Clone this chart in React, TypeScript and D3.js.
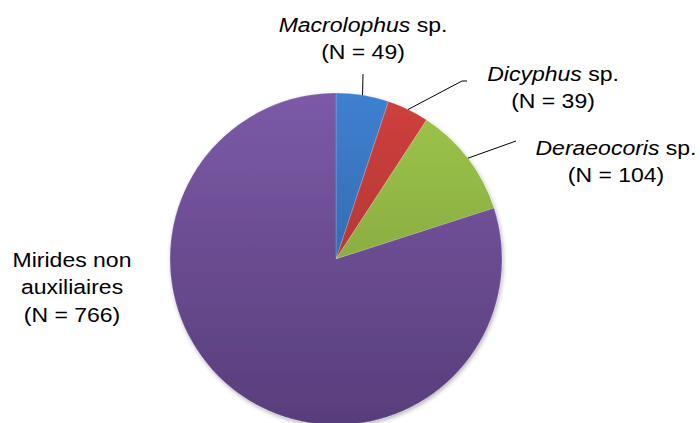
import * as d3 from 'd3';
import { useEffect, useRef } from 'react';

// data
const categories = ['Macrolophus', 'Dicyphus', 'Deraeocoris', 'Mirides non auxiliaires'];
const counts = [49, 39, 104, 766];
const italicNames = ['Macrolophus', 'Dicyphus', 'Deraeocoris', ''];
const suffixes = [' sp.', ' sp.', ' sp.', ''];
const colorsTop = ['#3f80d1', '#cf403d', '#9dc64c', '#7c5aa7'];
const colorsBottom = ['#2a5993', '#9c302e', '#789636', '#583d7b'];

// label layout: centre x, first baseline, and leader line end points
const labelPos = [
  { x: 363, y: 32, leader: [[363, 74]] },
  { x: 553, y: 81, leader: [[462, 81], [467, 81]] },
  { x: 616, y: 155, leader: [[516, 141]] },
  { x: 72, y: 267, leader: [] },
];

const App = () => {
  const width = 700;
  const height = 423;
  const cx = 336;
  const cy = 259;
  const radius = 166;
  const fontSize = 19.5;
  const stretch = 1.18;
  const lineH = 27.5;

  const svgRef = useRef<SVGSVGElement>(null);

  useEffect(() => {
    const svg = d3.select(svgRef.current);
    svg.selectAll('*').remove();

    const defs = svg.append('defs');
    counts.forEach((_, i) => {
      const g = defs.append('linearGradient')
        .attr('id', 'grad' + i)
        .attr('gradientUnits', 'userSpaceOnUse')
        .attr('x1', 0).attr('y1', -radius)
        .attr('x2', 0).attr('y2', radius);
      g.append('stop').attr('offset', '0%').attr('stop-color', colorsTop[i]);
      g.append('stop').attr('offset', '100%').attr('stop-color', colorsBottom[i]);
    });
    const f = defs.append('filter').attr('id', 'shadow')
      .attr('x', '-10%').attr('y', '-10%').attr('width', '120%').attr('height', '120%');
    f.append('feDropShadow')
      .attr('dx', 1).attr('dy', 2).attr('stdDeviation', 2)
      .attr('flood-color', '#000').attr('flood-opacity', 0.3);

    const pie = d3.pie<number>().sort(null).value(d => d);
    const arcs = pie(counts);
    const arc = d3.arc<d3.PieArcDatum<number>>().innerRadius(0).outerRadius(radius);

    const g = svg.append('g').attr('transform', `translate(${cx},${cy})`);
    g.append('g').attr('filter', 'url(#shadow)')
      .selectAll('path')
      .data(arcs)
      .join('path')
      .attr('d', arc)
      .attr('fill', (_, i) => `url(#grad${i})`)
      .attr('stroke', 'rgba(255,255,255,0.35)')
      .attr('stroke-width', 0.5);

    // leader lines
    arcs.forEach((a, i) => {
      const pts = labelPos[i].leader;
      if (!pts.length) return;
      const mid = (a.startAngle + a.endAngle) / 2;
      const start: [number, number] = [cx + radius * Math.sin(mid), cy - radius * Math.cos(mid)];
      const line = d3.line();
      svg.append('path')
        .attr('d', line([start, ...(pts as [number, number][])]))
        .attr('fill', 'none')
        .attr('stroke', '#000')
        .attr('stroke-width', 1);
    });

    // labels
    categories.forEach((c, i) => {
      const p = labelPos[i];
      const t = svg.append('g')
        .attr('transform', `translate(${p.x},${p.y}) scale(${stretch},1)`)
        .attr('font-family', '"Liberation Sans", Arial, sans-serif')
        .attr('font-size', fontSize)
        .attr('fill', '#000')
        .attr('text-anchor', 'middle');
      let lines: string[][];
      if (italicNames[i]) {
        lines = [[italicNames[i], suffixes[i]], ['', `(N = ${counts[i]})`]];
      } else {
        lines = [['', 'Mirides non'], ['', 'auxiliaires'], ['', `(N = ${counts[i]})`]];
      }
      lines.forEach((ln, j) => {
        const txt = t.append('text').attr('x', 0).attr('y', j * lineH);
        if (ln[0]) txt.append('tspan').attr('font-style', 'italic').text(ln[0]);
        txt.append('tspan').text(ln[1]);
      });
    });
  }, []);

  return (
    <svg
      ref={svgRef}
      width={width}
      height={height}
      viewBox={`0 0 ${width} ${height}`}
      style={{ position: 'absolute', left: 0, top: 0, background: '#fff' }}
    />
  );
};

export default App;
